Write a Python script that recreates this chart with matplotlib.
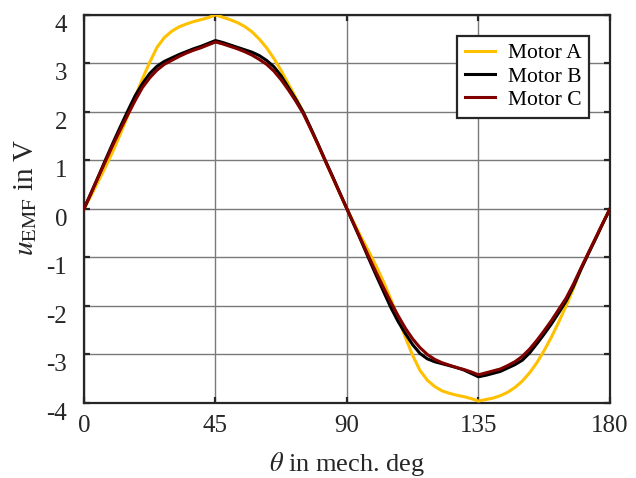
import matplotlib
matplotlib.use('Agg')
import matplotlib.pyplot as plt

# back-EMF over one pole pitch (2.5 deg steps)
theta = [i * 2.5 for i in range(73)]

motor_a = [0.0, 0.28, 0.58, 0.88, 1.2, 1.55, 1.92, 2.3, 2.68, 3.02,
           3.33, 3.53, 3.66, 3.75, 3.81, 3.86, 3.9, 3.94, 4.0,
           3.95, 3.9, 3.84, 3.76, 3.65, 3.5, 3.32, 3.1, 2.85,
           2.57, 2.29, 2.0, 1.67, 1.33, 1.0, 0.66, 0.33, 0.0,
           -0.3, -0.6, -0.88, -1.18, -1.5, -1.86, -2.25, -2.65, -3.02,
           -3.33, -3.53, -3.66, -3.75, -3.8, -3.84, -3.87, -3.91, -3.96,
           -3.93, -3.9, -3.85, -3.78, -3.68, -3.55, -3.38, -3.17, -2.92,
           -2.64, -2.33, -2.0, -1.64, -1.25, -0.93, -0.62, -0.31, 0.0]

motor_b = [0.0, 0.34, 0.68, 1.03, 1.37, 1.7, 2.02, 2.33, 2.58, 2.79,
           2.94, 3.04, 3.11, 3.18, 3.24, 3.3, 3.35, 3.41, 3.47,
           3.43, 3.38, 3.33, 3.28, 3.23, 3.16, 3.06, 2.93, 2.74,
           2.5, 2.26, 2.0, 1.68, 1.35, 1.01, 0.68, 0.34, 0.0,
           -0.34, -0.68, -1.03, -1.37, -1.7, -2.03, -2.32, -2.57, -2.8,
           -2.98, -3.09, -3.15, -3.19, -3.23, -3.27, -3.32, -3.39, -3.46,
           -3.43, -3.39, -3.35, -3.28, -3.21, -3.12, -2.97, -2.78, -2.58,
           -2.37, -2.14, -1.9, -1.6, -1.26, -0.94, -0.63, -0.31, 0.0]

motor_c = [0.0, 0.33, 0.67, 1.0, 1.33, 1.64, 1.94, 2.23, 2.5, 2.7,
           2.86, 2.98, 3.06, 3.14, 3.21, 3.27, 3.32, 3.38, 3.44,
           3.4, 3.35, 3.3, 3.24, 3.17, 3.08, 2.98, 2.84, 2.66,
           2.45, 2.22, 1.97, 1.66, 1.34, 1.0, 0.67, 0.33, 0.0,
           -0.33, -0.66, -0.99, -1.31, -1.62, -1.92, -2.2, -2.46, -2.68,
           -2.86, -3.0, -3.1, -3.17, -3.22, -3.27, -3.31, -3.36, -3.42,
           -3.38, -3.34, -3.3, -3.23, -3.15, -3.04, -2.89, -2.71, -2.51,
           -2.3, -2.07, -1.84, -1.55, -1.23, -0.92, -0.61, -0.3, 0.0]

xticks = [0, 45, 90, 135, 180]
yticks = [-4, -3, -2, -1, 0, 1, 2, 3, 4]

plt.rcParams['font.family'] = ['Liberation Serif', 'DejaVu Serif']
plt.rcParams['mathtext.fontset'] = 'stix'
plt.rcParams['axes.unicode_minus'] = False

fig = plt.figure(figsize=(6.36, 4.78), dpi=100)
ax = fig.add_axes([0.132, 0.157, 0.827, 0.812])

ax.plot(theta, motor_a, color='#FFC000', lw=2.2, label='Motor A', zorder=3)
ax.plot(theta, motor_b, color='black', lw=2.2, label='Motor B', zorder=4)
ax.plot(theta, motor_c, color='#800000', lw=2.2, label='Motor C', zorder=5)

ax.set_xlim(0, 180)
ax.set_ylim(-4, 4)
ax.set_xticks(xticks)
ax.set_yticks(yticks)
ax.grid(True, color='#7a7a7a', lw=1.0)
ax.set_axisbelow(True)

for s in ax.spines.values():
    s.set_color('#262626')
    s.set_linewidth(1.6)

ax.tick_params(direction='in', length=4, width=1.6, color='#262626',
               top=True, right=True, labelsize=18, colors='#262626')
ax.tick_params(axis='x', pad=9)
ax.tick_params(axis='y', pad=12)
plt.setp(ax.get_yticklabels(), va='top')

ax.set_xlabel(r'$\theta$ in mech. deg', fontsize=19, color='#262626')
ax.set_ylabel(r'$u_{\mathrm{EMF}}$ in V', fontsize=21, color='#262626')
ax.xaxis.set_label_coords(0.5, -0.12)
ax.yaxis.set_label_coords(-0.085, 0.53)

leg = ax.legend(loc='upper right', bbox_to_anchor=(0.96, 0.946), borderaxespad=0,
                fontsize=15.5, handlelength=1.4, handletextpad=0.6,
                labelspacing=0.15, borderpad=0.35, fancybox=False,
                framealpha=1, edgecolor='#262626')
leg.get_frame().set_linewidth(1.6)

fig.savefig('out.png', dpi=100)
